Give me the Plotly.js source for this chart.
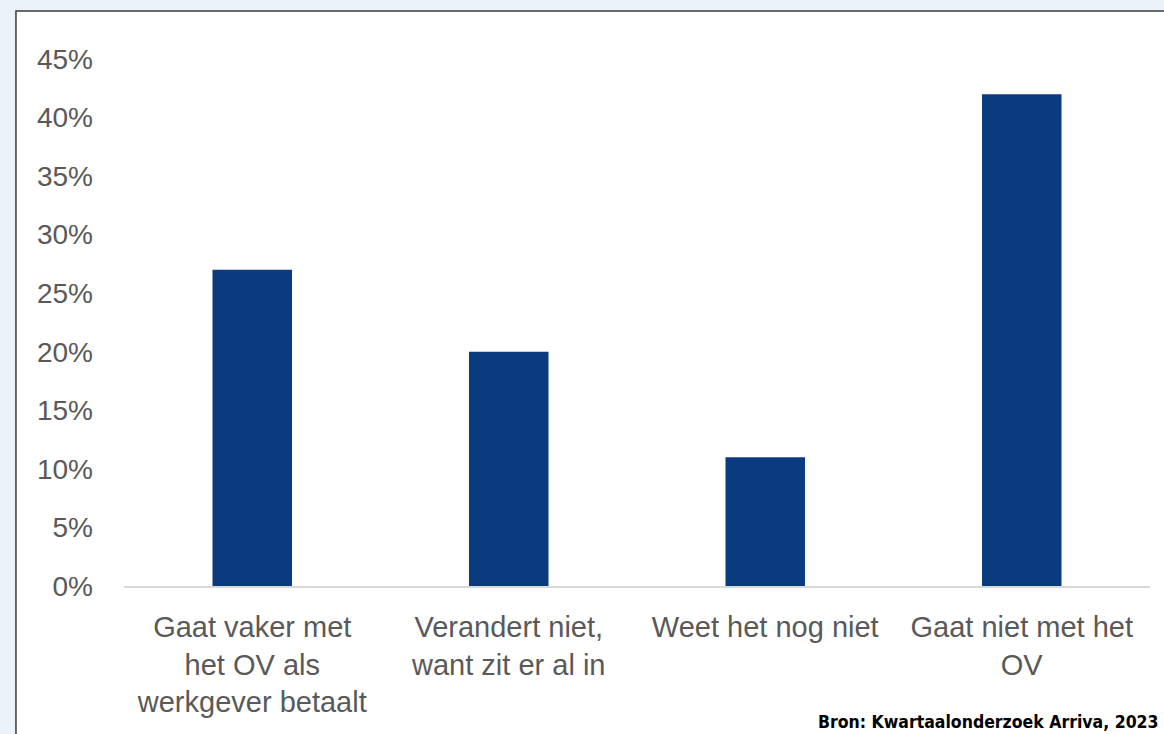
<!DOCTYPE html>
<html>
<head>
<meta charset="utf-8">
<script src="https://cdn.plot.ly/plotly-3.0.1.min.js"></script>
<style>
html,body{margin:0;padding:0;background:#EBF2FA;}
#chart{width:1164px;height:734px;}
</style>
</head>
<body>
<div id="chart"></div>
<script>
const categories = [
  "Gaat vaker met<br>het OV als<br>werkgever betaalt",
  "Verandert niet,<br>want zit er al in",
  "Weet het nog niet",
  "Gaat niet met het<br>OV"
];
const values = [27, 20, 11, 42];
const yTickValues = [0, 5, 10, 15, 20, 25, 30, 35, 40, 45];
const yTickLabels = ["0%", "5%", "10%", "15%", "20%", "25%", "30%", "35%", "40%", "45%"];
const sourceText = "Bron: Kwartaalonderzoek Arriva, 2023";

const trace = {
  type: "bar",
  x: categories,
  y: values,
  marker: {color: "#0C3A7F"},
  width: 0.31,
  hoverinfo: "none"
};

const layout = {
  width: 1164,
  height: 734,
  paper_bgcolor: "#EBF2FA",
  plot_bgcolor: "#FFFFFF",
  margin: {l: 124, r: 14, t: 59, b: 148},
  showlegend: false,
  font: {family: "Liberation Sans, Arial, sans-serif", size: 26, color: "#595959"},
  xaxis: {
    showgrid: false,
    zeroline: false,
    showline: true,
    linecolor: "#D9D9D9",
    linewidth: 2,
    ticks: "",
    ticklabelstandoff: 14,
    tickfont: {size: 29, color: "#595959"}
  },
  yaxis: {
    range: [0, 45],
    tickvals: yTickValues,
    ticktext: yTickLabels,
    showgrid: false,
    zeroline: false,
    showline: false,
    ticks: "",
    ticklabelstandoff: 30,
    tickfont: {size: 28, color: "#595959"}
  },
  shapes: [{
    type: "rect",
    xref: "paper", yref: "paper",
    x0: -0.1053, x1: 1.2,
    y0: -0.5, y1: 1.0911,
    fillcolor: "#FFFFFF",
    line: {color: "#3A3A3A", width: 1.5},
    layer: "below"
  }],
  annotations: [{
    text: "<b>" + sourceText + "</b>",
    xref: "paper", yref: "paper",
    x: 0.6745, y: -0.258,
    xanchor: "left", yanchor: "middle",
    showarrow: false,
    font: {family: "DejaVu Sans Condensed, DejaVu Sans, sans-serif", size: 17.5, color: "#000000"}
  }]
};

Plotly.newPlot("chart", [trace], layout, {displayModeBar: false, staticPlot: true});
</script>
</body>
</html>
